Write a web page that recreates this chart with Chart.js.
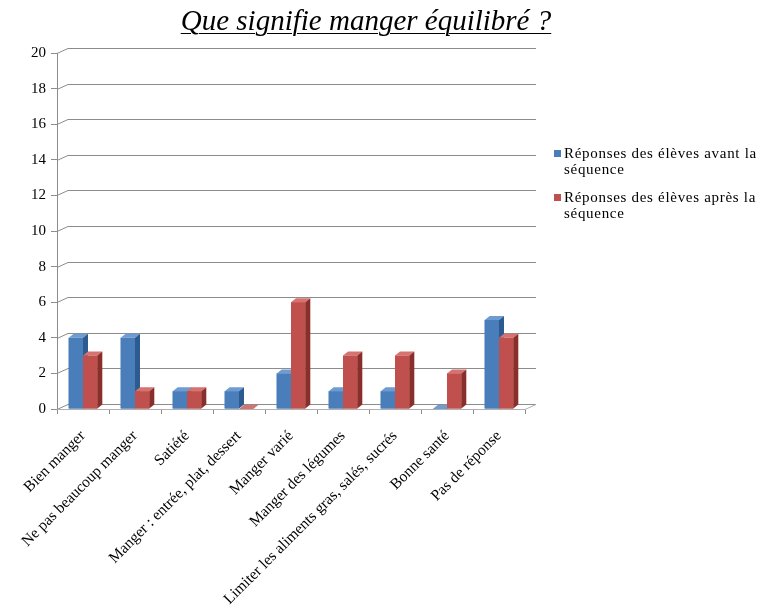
<!DOCTYPE html>
<html>
<head>
<meta charset="utf-8">
<script src="https://cdn.jsdelivr.net/npm/chart.js@4"></script>
<style>
  body { margin: 0; background: #fff; }
  #wrap { position: relative; width: 762px; height: 614px; }
  #titre {
    position: absolute; left: 0; width: 732px; top: 4px; text-align: center;
    font-family: "Liberation Serif", serif; font-style: italic; font-size: 29px;
    text-decoration: underline; text-decoration-thickness: 1px; text-underline-offset: 3px; color: #000;
  }
  #legende {
    position: absolute; left: 552px; top: 145px; width: 215px;
    font-family: "Liberation Serif", serif; font-size: 15px; line-height: 16px;
    letter-spacing: 0.7px; color: #000;
  }
  .item { position: relative; padding-left: 12px; margin-bottom: 12px; }
  .item span { position: absolute; left: 2px; top: 5px; width: 7px; height: 7px; }
</style>
</head>
<body>
<div id="wrap">
  <canvas id="graph" width="762" height="614"></canvas>
  <div id="titre">Que signifie manger équilibré ?</div>
  <div id="legende"></div>
</div>
<script>
const categories = [
  'Bien manger',
  'Ne pas beaucoup manger',
  'Satiété',
  'Manger : entrée, plat, dessert',
  'Manger varié',
  'Manger des légumes',
  'Limiter les aliments gras, salés, sucrés',
  'Bonne santé',
  'Pas de réponse'
];
const avant = [4, 4, 1, 1, 2, 1, 1, 0, 5];
const apres = [3, 1, 1, 0, 6, 3, 3, 2, 4];
const nomsSeries = ['Réponses des élèves avant la séquence', 'Réponses des élèves après la séquence'];
const ticksY = [0, 2, 4, 6, 8, 10, 12, 14, 16, 18, 20];

const couleurs = [
  { face: '#4a7ebb', cote: '#2d5a8f', haut: '#6e9bd2' },
  { face: '#c0504d', cote: '#8a2e2b', haut: '#d6726f' }
];

// legende HTML
const leg = document.getElementById('legende');
nomsSeries.forEach((nom, i) => {
  const d = document.createElement('div');
  d.className = 'item';
  d.innerHTML = `<span style="background:${couleurs[i].face}"></span>${nom}`;
  leg.appendChild(d);
});

const PROF = { dx: 5, dy: 4 };   // profondeur des barres
const MUR = { dx: 11, dy: 5 };   // decalage du fond

const effet3D = {
  id: 'effet3D',
  beforeDatasetsDraw(chart) {
    const { ctx, chartArea: a, scales: { y } } = chart;
    ctx.save();
    ctx.strokeStyle = '#8c8c8c';
    ctx.lineWidth = 1;
    ticksY.forEach(v => {
      const py = Math.round(y.getPixelForValue(v)) + 0.5;
      ctx.beginPath();
      ctx.moveTo(a.left, py);
      ctx.lineTo(a.left + MUR.dx, py - MUR.dy);
      ctx.lineTo(a.right + MUR.dx, py - MUR.dy);
      ctx.stroke();
    });
    // sol
    const b = Math.round(y.getPixelForValue(0)) + 0.5;
    ctx.strokeStyle = '#b0b0b0';
    ctx.beginPath();
    ctx.moveTo(a.left, b);
    ctx.lineTo(a.right, b);
    ctx.lineTo(a.right + MUR.dx, b - MUR.dy);
    ctx.stroke();
    ctx.restore();
  },
  afterDatasetsDraw(chart) {
    const { ctx } = chart;
    ctx.save();
    chart.data.datasets.forEach((ds, di) => {
      const meta = chart.getDatasetMeta(di);
      const c = couleurs[di];
      meta.data.forEach(bar => {
        const x1 = bar.x - bar.width / 2, x2 = bar.x + bar.width / 2;
        const top = bar.y, base = bar.base;
        ctx.fillStyle = c.face;
        ctx.fillRect(x1, top, x2 - x1, base - top);
        ctx.fillStyle = c.haut;
        ctx.beginPath();
        ctx.moveTo(x1, top); ctx.lineTo(x2, top);
        ctx.lineTo(x2 + PROF.dx, top - PROF.dy); ctx.lineTo(x1 + PROF.dx, top - PROF.dy);
        ctx.closePath(); ctx.fill();
        ctx.fillStyle = c.cote;
        ctx.beginPath();
        ctx.moveTo(x2, top); ctx.lineTo(x2 + PROF.dx, top - PROF.dy);
        ctx.lineTo(x2 + PROF.dx, base - PROF.dy); ctx.lineTo(x2, base);
        ctx.closePath(); ctx.fill();
      });
    });
    ctx.restore();
  }
};

new Chart(document.getElementById('graph'), {
  type: 'bar',
  data: {
    labels: categories,
    datasets: [
      { label: nomsSeries[0], data: avant, backgroundColor: couleurs[0].face },
      { label: nomsSeries[1], data: apres, backgroundColor: couleurs[1].face }
    ]
  },
  options: {
    responsive: false,
    animation: false,
    categoryPercentage: 0.55,
    barPercentage: 1.0,
    layout: { padding: { top: 53, right: 237, left: 0, bottom: 0 } },
    plugins: { legend: { display: false }, tooltip: { enabled: false } },
    scales: {
      x: {
        afterFit: s => { s.height = 205; },
        grid: { offset: true, drawOnChartArea: false, tickLength: 5, color: '#8c8c8c' },
        border: { color: '#b0b0b0' },
        ticks: {
          autoSkip: false, maxRotation: 45, minRotation: 45, color: '#000', padding: 13,
          font: { family: 'Liberation Serif', size: 15.5 }
        }
      },
      y: {
        min: 0, max: 20,
        afterFit: s => { s.width = 57; },
        afterBuildTicks: s => { s.ticks = ticksY.map(v => ({ value: v })); },
        grid: { drawOnChartArea: false, tickLength: 6, color: '#8c8c8c' },
        border: { color: '#8c8c8c' },
        ticks: { color: '#000', padding: 5, font: { family: 'Liberation Serif', size: 15 } }
      }
    }
  },
  plugins: [effet3D]
});
</script>
</body>
</html>
